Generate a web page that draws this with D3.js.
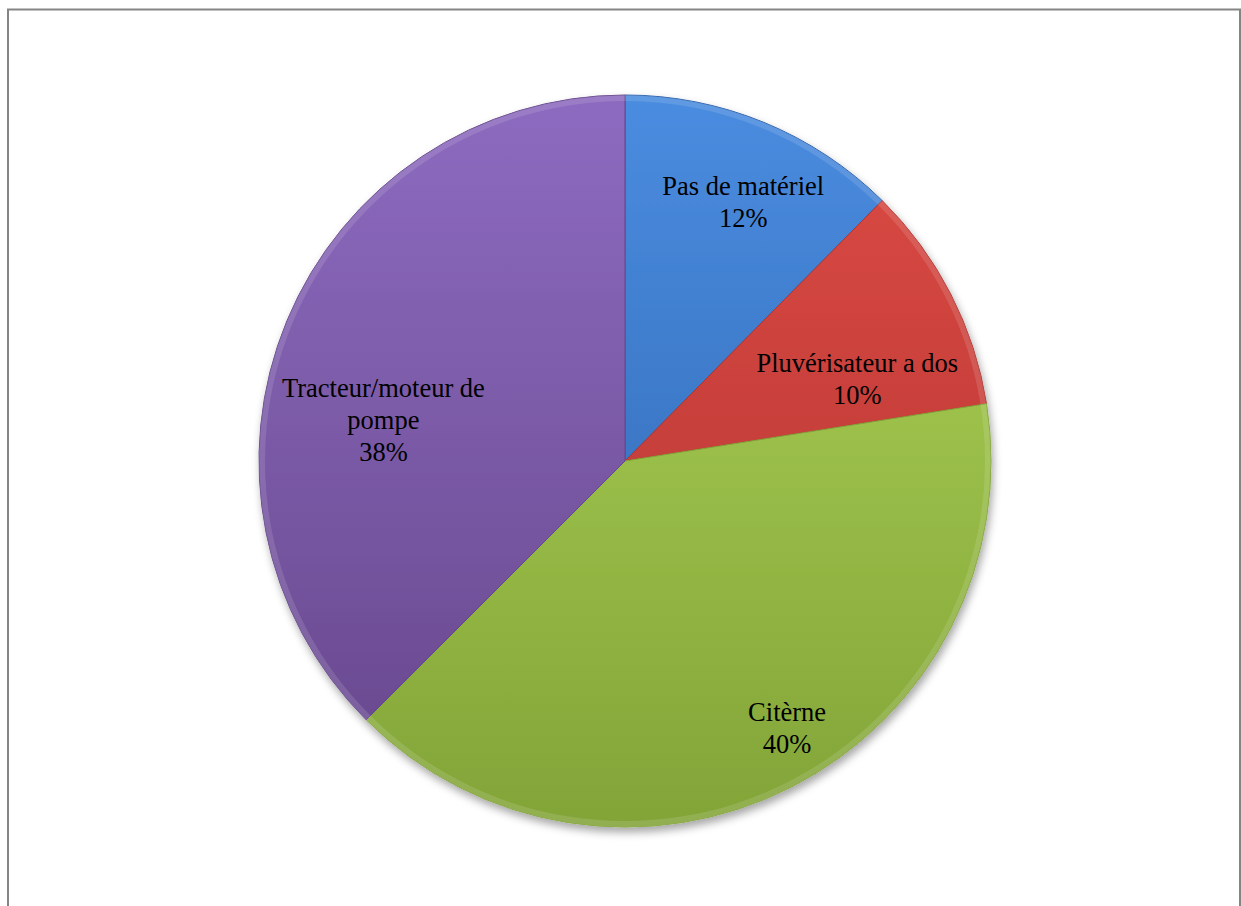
<!DOCTYPE html>
<html>
<head>
<meta charset="utf-8">
<script src="https://cdn.jsdelivr.net/npm/d3@7"></script>
<style>
  body { margin: 0; background: #fff; }
  svg { display: block; }
</style>
</head>
<body>
<div id="chart-area"></div>
<script>
// Data
let categories = ["Pas de matériel", "Pluvérisateur a dos", "Citèrne", "Tracteur/moteur de pompe"];
let values = [12.4, 10.1, 40.0, 37.5];
let labelLines = [["Pas de matériel"], ["Pluvérisateur a dos"], ["Citèrne"], ["Tracteur/moteur de", "pompe"]];

// Colours (top / bottom of gradient)
let colorsTop = ["#4a8ce0", "#dc4a44", "#b0d658", "#8d6bc0"];
let colorsBottom = ["#2d62ab", "#b03430", "#82a438", "#65468a"];

// label placement: angle (deg from top) and fraction of radius
let labelPolar = [[24.6, 0.776], [70.8, 0.672], [148.8, 0.855], [279.4, 0.669]];

let width = 1241, height = 906;
let cx = 625, cy = 461, radius = 366;

let svg = d3.select("#chart-area").append("svg")
    .attr("width", width)
    .attr("height", height);

// Frame (no bottom edge)
svg.append("path")
    .attr("d", `M8,906 L8,9.5 L1240,9.5 L1240,906`)
    .attr("fill", "none")
    .attr("stroke", "#858585")
    .attr("stroke-width", 2);

let defs = svg.append("defs");

let shadow = defs.append("filter")
    .attr("id", "shadow")
    .attr("x", "-10%").attr("y", "-10%")
    .attr("width", "120%").attr("height", "125%");
shadow.append("feDropShadow")
    .attr("dx", 2).attr("dy", 5)
    .attr("stdDeviation", 4)
    .attr("flood-color", "#000")
    .attr("flood-opacity", 0.35);

categories.forEach((c, i) => {
    let g = defs.append("linearGradient")
        .attr("id", "grad" + i)
        .attr("gradientUnits", "userSpaceOnUse")
        .attr("x1", 0).attr("y1", -radius)
        .attr("x2", 0).attr("y2", radius);
    g.append("stop").attr("offset", "0%").attr("stop-color", colorsTop[i]);
    g.append("stop").attr("offset", "100%").attr("stop-color", colorsBottom[i]);
});

let pie = d3.pie().sort(null).value(d => d);
let arcs = pie(values);

let arc = d3.arc().innerRadius(0).outerRadius(radius);
let bevel = d3.arc().innerRadius(radius - 6).outerRadius(radius);

let chart = svg.append("g")
    .attr("transform", `translate(${cx},${cy})`);

let pieG = chart.append("g").attr("filter", "url(#shadow)");

pieG.selectAll(".slice")
    .data(arcs)
    .enter()
    .append("path")
    .attr("class", "slice")
    .attr("d", arc)
    .attr("fill", (d, i) => `url(#grad${i})`)
    .attr("stroke", (d, i) => colorsBottom[i])
    .attr("stroke-width", 1);

// soft bevel highlight on the rim
chart.selectAll(".rim")
    .data(arcs)
    .enter()
    .append("path")
    .attr("class", "rim")
    .attr("d", bevel)
    .attr("fill", "#fff")
    .attr("opacity", 0.12);

// Labels
let total = d3.sum(values);
let labels = chart.selectAll(".label")
    .data(arcs)
    .enter()
    .append("text")
    .attr("class", "label")
    .attr("text-anchor", "middle")
    .attr("font-family", "'Liberation Serif', 'Times New Roman', serif")
    .attr("font-size", 26.5)
    .attr("fill", "#000")
    .attr("transform", (d, i) => {
        let a = labelPolar[i][0] * Math.PI / 180;
        let r = labelPolar[i][1] * radius;
        return `translate(${r * Math.sin(a)},${-r * Math.cos(a)})`;
    });

labels.each(function(d, i) {
    let lines = labelLines[i].concat([Math.round(d.data / total * 100) + "%"]);
    let lh = 32;
    let y0 = -(lines.length - 1) * lh / 2 + 8;
    d3.select(this).selectAll("tspan")
        .data(lines)
        .enter()
        .append("tspan")
        .attr("x", 0)
        .attr("y", (t, j) => y0 + j * lh)
        .text(t => t);
});
</script>
</body>
</html>
